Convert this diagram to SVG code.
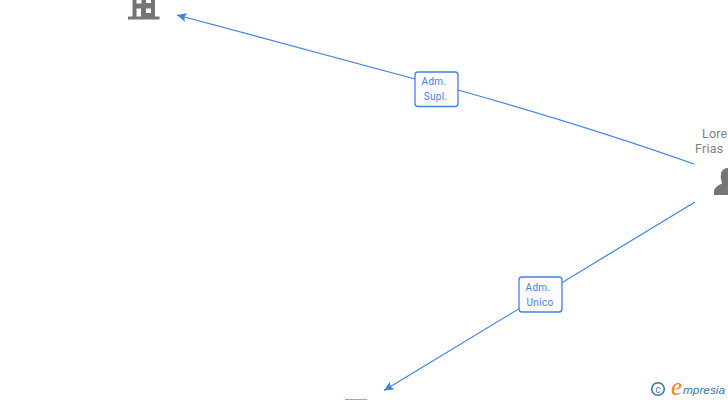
<svg xmlns="http://www.w3.org/2000/svg" width="728" height="400" viewBox="0 0 728 400">
<style>
.c{fill:none;stroke:#3f82e4;stroke-width:1.2}
.b{fill:#fcfcfc;stroke:#3f82e4;stroke-width:1.3}
.l{font:10px Roboto,"Liberation Sans",sans-serif;fill:#3f82e4;text-anchor:middle;letter-spacing:.3px}
.n{font:12.500px Roboto,"Liberation Sans",sans-serif;fill:#808080;letter-spacing:.2px}
.g{fill:#757575}
</style>
<defs><marker id="a" markerWidth="11" markerHeight="10" refX="9.500" refY="5" orient="auto" markerUnits="userSpaceOnUse"><path d="M9.500 5L0 0.500L2 5L0 9.500Z" fill="#3f82e4"/></marker></defs>
<g id="connectors">
<path class="c" marker-end="url(#a)" d="M694 164Q590 127 458 90L415 79L177 15"/>
<path class="c" marker-end="url(#a)" d="M695 202L384 390.500"/>
</g>
<g id="edge-label-1"><rect class="b" x="415" y="72" width="43" height="34.500" rx="3"/><text class="l" x="434" y="85">Adm.</text><text class="l" x="435.500" y="100">Supl.</text></g>
<g id="edge-label-2"><rect class="b" x="519" y="277" width="43" height="35" rx="3"/><text class="l" x="538" y="291">Adm.</text><text class="l" x="540" y="306">Unico</text></g>
<g id="node-company">
<path class="g" fill-rule="evenodd" d="M132.500 0H155V16.500H159.500V19.500H128V16.500H132.500ZM136.500 0V3.500H141.500V0ZM146 0V3H151V0ZM136.500 8.500V16.500H141V8.500ZM146 8.500V13H151V8.500Z"/>
</g>
<g id="node-person">
<text class="n" x="702" y="138">Lore</text><text class="n" x="695" y="153">Frias</text>
<path class="g" d="M714 195V191Q715 186 722 183.500Q720 178 721 173Q723 168 728 168V195Z"/>
</g>
<g id="node-bottom"><rect x="345" y="399" width="22" height="1" fill="#f28a70"/></g>
<g id="watermark">
<circle cx="658" cy="389" r="6.300" fill="none" stroke="#35799b" stroke-width="1.500"/>
<text x="658" y="392.500" font-family="'Liberation Sans',sans-serif" font-size="10" fill="#35799b" text-anchor="middle">c</text>
<text x="671" y="395" font-family="'Liberation Serif',serif" font-style="italic" font-size="25" fill="#ee8420">e</text>
<text x="683" y="393.500" font-family="'Liberation Sans',sans-serif" font-style="italic" font-size="11.800" fill="#35799b">mpresia</text>
</g>
</svg>
